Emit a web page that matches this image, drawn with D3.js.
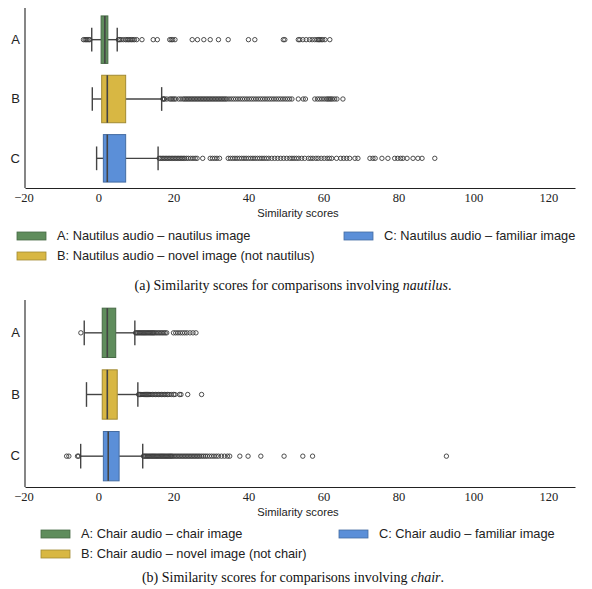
<!DOCTYPE html>
<html>
<head>
<meta charset="utf-8">
<script src="https://cdn.jsdelivr.net/npm/d3@7"></script>
<style>
  body { margin: 0; background: #fff; }
  svg { display: block; }
</style>
</head>
<body>
<svg id="chart" width="592" height="589"></svg>
<script>
// categories and colours
const categories = ["A", "B", "C"];
const colors = ["#5f8d5c", "#d8b743", "#5b8fd8"];
const xTicks = [-20, 0, 20, 40, 60, 80, 100, 120];

// nautilus panel (a)
const nautilusQ1 = [0.7, 0.85, 1.3];
const nautilusMedian = [1.7, 2.35, 2.35];
const nautilusQ3 = [2.5, 7.25, 7.25];
const nautilusLow = [-1.8, -1.65, -0.5];
const nautilusHigh = [5.0, 16.85, 15.9];
const nautilusOutA = [-4.0, -3.6, -3.3, -3.0, -2.6, -2.3, 5.3, 5.6, 6.0, 6.6, 7.2, 7.6, 8.0, 8.4, 8.8, 9.2, 9.6, 10.2, 11.6,
  14.6, 15.7, 19.0, 19.4, 19.8, 20.4, 25.0, 26.4, 28.1, 29.8, 32.0, 34.6, 40.0, 41.7, 49.3, 49.7, 53.3, 53.7, 54.5,
  55.4, 56.3, 57.0, 57.7, 58.3, 58.7, 59.0, 59.4, 59.8, 60.4, 61.7];
const nautilusOutB = [17.2, 17.4, 17.6, 18.2, 19.0, 19.4, 19.8, 20.2, 20.6, 21.4, 22.0, 22.6, 23.0, 23.4, 23.8, 24.2, 24.6,
  25.0, 25.4, 25.8, 26.2, 26.6, 27.0, 27.4, 27.8, 28.2, 28.6, 29.0, 29.4, 29.8, 30.2, 30.6, 31.0, 31.4, 31.8, 32.2, 32.6,
  33.0, 33.4, 33.8, 34.2, 34.8, 35.4, 36.0, 36.6, 37.2, 37.8, 38.4, 39.0, 39.6, 40.2, 40.8, 41.4, 42.0, 42.6, 43.2, 43.8,
  44.4, 45.0, 45.6, 46.2, 46.8, 47.4, 48.0, 48.6, 49.2, 49.8, 50.4, 51.0, 51.6, 53.3, 54.6, 55.2, 57.7, 58.4, 59.0,
  59.6, 60.2, 60.8, 61.2, 61.6, 62.0, 62.4, 63.0, 63.6, 65.2];
const nautilusOutC = [16.2, 16.6, 17.0, 17.4, 17.8, 18.2, 18.6, 19.0, 19.4, 19.8, 20.2, 20.6, 21.0, 21.4, 21.8, 22.2, 22.6,
  23.0, 23.5, 24.0, 24.6, 25.2, 25.8, 26.3, 27.8, 29.8, 30.4, 31.0, 31.6, 32.3, 34.6, 35.2, 35.8, 36.4, 37.0, 37.6, 38.2,
  38.8, 39.4, 40.0, 40.6, 41.2, 41.8, 42.4, 43.0, 43.6, 44.2, 44.8, 45.4, 46.2, 47.0, 47.8, 48.6, 49.4, 50.2, 51.0, 51.6,
  52.2, 52.8, 53.4, 54.2, 55.0, 56.0, 56.6, 57.2, 58.0, 58.6, 59.4, 60.2, 61.0, 61.6, 62.2, 63.5, 64.6, 65.4, 66.2, 67.0,
  68.4, 69.2, 72.4, 73.2, 73.8, 75.6, 77.2, 79.0, 79.8, 80.6, 81.2, 82.3, 83.9, 85.2, 86.3, 89.7];
const nautilusLegend = ["A: Nautilus audio \u2013 nautilus image", "B: Nautilus audio \u2013 novel image (not nautilus)",
  "C: Nautilus audio \u2013 familiar image"];

// chair panel (b)
const chairQ1 = [1.0, 1.0, 1.3];
const chairMedian = [2.35, 2.35, 2.6];
const chairQ3 = [4.6, 5.0, 5.5];
const chairLow = [-3.8, -3.2, -4.75];
const chairHigh = [9.7, 10.5, 11.8];
const chairOutA = [-4.7, 9.9, 10.2, 10.5, 10.8, 11.1, 11.4, 11.7, 12.0, 12.3, 12.6, 12.9, 13.2, 13.5, 13.8, 14.1, 14.4, 14.7,
  15.0, 15.4, 15.8, 16.2, 16.6, 17.0, 17.4, 17.8, 18.2, 20.0, 20.6, 21.2, 21.8, 22.4, 23.0, 23.6, 24.4, 25.2, 26.0];
const chairOutB = [10.7, 11.0, 11.3, 11.6, 11.9, 12.2, 12.5, 12.8, 13.1, 13.4, 13.7, 14.0, 14.4, 14.8, 15.2, 15.6, 16.0,
  16.4, 16.8, 17.2, 17.6, 18.0, 18.4, 18.8, 19.4, 20.0, 20.4, 21.6, 22.0, 23.8, 27.5];
const chairOutC = [-8.5, -7.9, -5.6, -5.3, 12.0, 12.3, 12.6, 12.9, 13.2, 13.5, 13.8, 14.1, 14.4, 14.7, 15.0, 15.3, 15.6,
  15.9, 16.2, 16.5, 16.8, 17.1, 17.4, 17.7, 18.0, 18.3, 18.6, 18.9, 19.2, 19.5, 19.8, 20.2, 20.6, 21.0, 21.4, 21.8, 22.2,
  22.6, 23.0, 23.4, 23.8, 24.2, 24.6, 25.0, 25.4, 25.8, 26.2, 26.6, 27.0, 27.5, 28.0, 28.5, 29.0, 29.6, 30.2, 30.8, 31.4,
  32.0, 32.8, 33.6, 34.4, 35.0, 37.7, 39.9, 43.3, 49.5, 54.5, 57.1, 92.8];
const chairLegend = ["A: Chair audio \u2013 chair image", "B: Chair audio \u2013 novel image (not chair)",
  "C: Chair audio \u2013 familiar image"];

const svg = d3.select("#chart");
const serif = "'Liberation Serif', 'DejaVu Serif', serif";
const sans = "'Liberation Sans', 'DejaVu Sans', sans-serif";

function drawPanel(p) {
  const x = d3.scaleLinear().domain([-19.6, 127.1]).range([25, 575]);
  const y = d3.scaleBand().domain(categories).range([p.top, p.bottom]).paddingInner(0).paddingOuter(0);
  const g = svg.append("g");
  const bw = y.bandwidth() * 0.8;

  categories.forEach((c, i) => {
    const cy = y(c) + y.bandwidth() / 2;
    // whiskers
    g.append("line").attr("x1", x(p.low[i])).attr("x2", x(p.q1[i])).attr("y1", cy).attr("y2", cy)
      .attr("stroke", "#444").attr("stroke-width", 1.4);
    g.append("line").attr("x1", x(p.q3[i])).attr("x2", x(p.high[i])).attr("y1", cy).attr("y2", cy)
      .attr("stroke", "#444").attr("stroke-width", 1.4);
    [p.low[i], p.high[i]].forEach(v => {
      g.append("line").attr("x1", x(v)).attr("x2", x(v)).attr("y1", cy - bw / 4).attr("y2", cy + bw / 4)
        .attr("stroke", "#444").attr("stroke-width", 1.4);
    });
    // box
    g.append("rect").attr("x", x(p.q1[i])).attr("y", cy - bw / 2)
      .attr("width", x(p.q3[i]) - x(p.q1[i])).attr("height", bw)
      .attr("fill", colors[i]).attr("stroke", d3.color(colors[i]).darker(0.8)).attr("stroke-width", 1);
    g.append("line").attr("x1", x(p.median[i])).attr("x2", x(p.median[i]))
      .attr("y1", cy - bw / 2).attr("y2", cy + bw / 2).attr("stroke", "#444").attr("stroke-width", 1.6);
    // outliers
    g.selectAll(null).data(p.outliers[i]).join("circle")
      .attr("cx", d => x(d)).attr("cy", cy).attr("r", 2.2)
      .attr("fill", "none").attr("stroke", "#3a3a3a").attr("stroke-width", 0.9);
  });

  // axes
  const xAxis = g.append("g").attr("transform", `translate(0,${p.bottom})`)
    .call(d3.axisBottom(x).tickValues(xTicks).tickSize(0).tickPadding(5));
  xAxis.select(".domain").attr("stroke", "#222").attr("stroke-width", 1.1);
  xAxis.selectAll("text").attr("font-family", serif).attr("font-size", 12.5).attr("fill", "#222");

  const yAxis = g.append("g").attr("transform", "translate(25,0)")
    .call(d3.axisLeft(y).tickSize(0).tickPadding(5));
  yAxis.select(".domain").attr("stroke", "#222").attr("stroke-width", 1.1)
    .attr("d", `M0,${p.top - 2}V${p.bottom}`);
  yAxis.selectAll("text").attr("font-family", sans).attr("font-size", 13).attr("fill", "#222");

  g.append("text").attr("x", 298).attr("y", p.bottom + 29).attr("text-anchor", "middle")
    .attr("font-family", sans).attr("font-size", 11.2).attr("fill", "#222").text("Similarity scores");

  // legend
  const slots = [[p.legX1, p.legY], [p.legX1, p.legY + 20], [p.legX2, p.legY]];
  p.legend.forEach((t, i) => {
    const [lx, ly] = slots[i];
    g.append("rect").attr("x", lx).attr("y", ly - 4).attr("width", 29).attr("height", 8)
      .attr("fill", colors[i]).attr("stroke", d3.color(colors[i]).darker(0.8)).attr("stroke-width", 0.8);
    g.append("text").attr("x", lx + 40).attr("y", ly).attr("dy", "0.35em")
      .attr("font-family", sans).attr("font-size", 12.8).attr("fill", "#222").text(t);
  });

  // caption
  const cap = g.append("text").attr("x", 293).attr("y", p.capY).attr("text-anchor", "middle")
    .attr("font-family", serif).attr("font-size", 14).attr("fill", "#111");
  cap.append("tspan").text(p.caption[0]);
  cap.append("tspan").attr("font-style", "italic").text(p.caption[1]);
  cap.append("tspan").text(".");
}

drawPanel({
  top: 10, bottom: 188,
  q1: nautilusQ1, median: nautilusMedian, q3: nautilusQ3, low: nautilusLow, high: nautilusHigh,
  outliers: [nautilusOutA, nautilusOutB, nautilusOutC],
  legend: nautilusLegend, legX1: 17, legX2: 344, legY: 236,
  caption: ["(a) Similarity scores for comparisons involving ", "nautilus"], capY: 290
});

drawPanel({
  top: 302, bottom: 487,
  q1: chairQ1, median: chairMedian, q3: chairQ3, low: chairLow, high: chairHigh,
  outliers: [chairOutA, chairOutB, chairOutC],
  legend: chairLegend, legX1: 41, legX2: 339, legY: 534,
  caption: ["(b) Similarity scores for comparisons involving ", "chair"], capY: 582
});
</script>
</body>
</html>
